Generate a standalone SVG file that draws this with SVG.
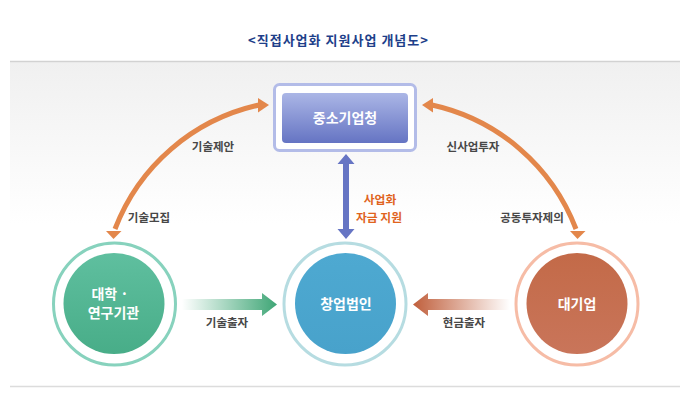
<svg xmlns="http://www.w3.org/2000/svg" width="689" height="405" viewBox="0 0 689 405">
<style>
.t{font-family:"Noto Sans CJK KR","Noto Sans",sans-serif;font-weight:bold;text-anchor:middle}
.node{fill:#ffffff;font-size:14px}
.lbl{fill:#474747;font-size:11.5px}
.org{fill:#e0641e;font-size:11.8px}
.arc{fill:none;stroke:#e3874b;stroke-width:5}
.ah{fill:#e3874b}
</style>
<defs>
<linearGradient id="bg" x1="0" y1="0" x2="0" y2="1">
<stop offset="0" stop-color="#f0f0f0"/>
<stop offset="0.5" stop-color="#ffffff"/>
</linearGradient>
<linearGradient id="box" x1="0" y1="0" x2="0" y2="1">
<stop offset="0" stop-color="#abb6e6"/>
<stop offset="1" stop-color="#6574c3"/>
</linearGradient>
<linearGradient id="gL" x1="0" y1="0" x2="0" y2="1">
<stop offset="0" stop-color="#5fbf9f"/>
<stop offset="1" stop-color="#48ad88"/>
</linearGradient>
<linearGradient id="gC" x1="0" y1="0" x2="0" y2="1">
<stop offset="0" stop-color="#4ea9d1"/>
<stop offset="1" stop-color="#48a2cb"/>
</linearGradient>
<linearGradient id="gR" x1="0" y1="0" x2="0" y2="1">
<stop offset="0" stop-color="#c36a48"/>
<stop offset="1" stop-color="#c9755a"/>
</linearGradient>
<linearGradient id="grn" gradientUnits="userSpaceOnUse" x1="182" y1="0" x2="277" y2="0">
<stop offset="0" stop-color="#3fa676" stop-opacity="0"/>
<stop offset="1" stop-color="#3fa676"/>
</linearGradient>
<linearGradient id="brn" gradientUnits="userSpaceOnUse" x1="413" y1="0" x2="510" y2="0">
<stop offset="0" stop-color="#c05f3c"/>
<stop offset="1" stop-color="#c05f3c" stop-opacity="0"/>
</linearGradient>
</defs>

<rect x="0" y="0" width="689" height="405" fill="#ffffff"/>
<rect x="10" y="62" width="670" height="324" fill="url(#bg)"/>
<line x1="10" y1="61.5" x2="680" y2="61.5" stroke="#d2d2d2" stroke-width="1.5"/>
<line x1="10" y1="386.5" x2="680" y2="386.5" stroke="#dcdcdc" stroke-width="1.5"/>

<text class="t" x="338" y="45" font-size="13" fill="#1e3f8a" textLength="180" lengthAdjust="spacing">&lt;직접사업화 지원사업 개념도&gt;</text>

<g id="connectors">
<path class="arc" d="M115,229 A200,200 0 0 1 259,105"/>
<polygon class="ah" points="269,105 258,98 258,112.5"/>
<polygon class="ah" points="113.5,239 106,231 121.5,231"/>
<path class="arc" d="M576,229 A200,200 0 0 0 432,105"/>
<polygon class="ah" points="422,105 433,98 433,112.5"/>
<polygon class="ah" points="577.5,239 570,231 585.5,231"/>
<polygon fill="#6675c4" points="346,154 354.5,164 349,164 349,229 354.5,229 346,239 337.5,229 343,229 343,164 337.5,164"/>
<polygon fill="url(#grn)" points="182,299 262,299 262,293 277,304.5 262,316 262,310 182,310"/>
<polygon fill="url(#brn)" points="510,299 428,299 428,293 413,304.5 428,316 428,310 510,310"/>
<text class="t lbl" x="213" y="151">기술제안</text>
<text class="t lbl" x="149" y="222">기술모집</text>
<text class="t lbl" x="473" y="151">신사업투자</text>
<text class="t lbl" x="532" y="222">공동투자제의</text>
<text class="t org" x="380" y="204">사업화</text>
<text class="t org" x="379" y="221.5">자금 지원</text>
<text class="t lbl" x="227" y="327">기술출자</text>
<text class="t lbl" x="464" y="327">현금출자</text>
</g>

<g id="node-smba">
<rect x="274.5" y="84.5" width="141" height="66" rx="5" fill="#ffffff" stroke="#b3bce8" stroke-width="3"/>
<rect x="282" y="93" width="126" height="50" rx="4" fill="url(#box)"/>
<text class="t node" x="345" y="123" font-size="14.5">중소기업청</text>
</g>

<g id="node-univ">
<circle cx="114.5" cy="304" r="61" fill="#ffffff" stroke="#87d2bd" stroke-width="3"/>
<circle cx="114" cy="303.5" r="50.5" fill="url(#gL)"/>
<text class="t node" x="110" y="299">대학 ·</text>
<text class="t node" x="113.5" y="318">연구기관</text>
</g>

<g id="node-startup">
<circle cx="345" cy="304" r="61" fill="#ffffff" stroke="#b6dce1" stroke-width="3"/>
<circle cx="345.5" cy="303.5" r="50.5" fill="url(#gC)"/>
<text class="t node" x="346" y="309">창업법인</text>
</g>

<g id="node-corp">
<circle cx="577" cy="304" r="61" fill="#ffffff" stroke="#f6bca6" stroke-width="3"/>
<circle cx="577" cy="303.5" r="50.5" fill="url(#gR)"/>
<text class="t node" x="577" y="309">대기업</text>
</g>
</svg>
